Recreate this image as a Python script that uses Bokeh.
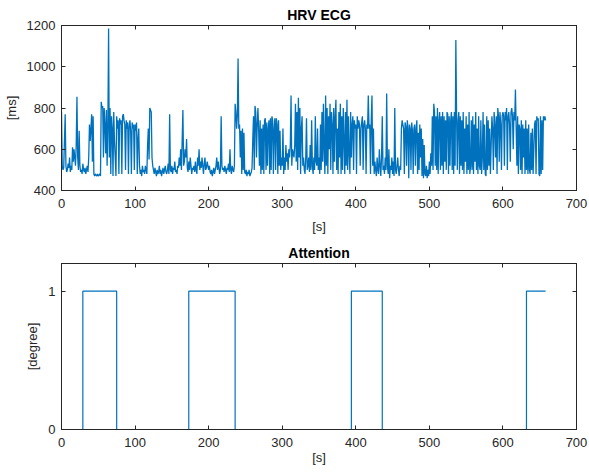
from bokeh.plotting import figure
from bokeh.layouts import column
from bokeh.models import LinearAxis, FixedTicker, Range1d
from bokeh.embed import file_html
from bokeh.resources import INLINE

# ---------------- data ----------------
hrv_ms = [
    780, 520, 500, 510, 640, 770, 520, 490, 500, 530, 510, 560, 490, 520, 500, 610, 540, 600, 560, 520,
    620, 855, 560, 500, 690, 520, 490, 500, 480, 530, 500, 490, 510, 480, 500, 520, 490, 560, 720, 640,
    700, 770, 540, 760, 480, 470, 480, 475, 470, 480, 470, 475, 480, 470, 830, 800, 810, 560, 800, 720,
    580, 790, 520, 700, 1185, 560, 800, 480, 760, 700, 470, 780, 640, 560, 470, 760, 700, 740, 480, 750,
    720, 740, 480, 760, 770, 740, 720, 500, 740, 700, 730, 480, 710, 740, 690, 480, 730, 700, 720, 500,
    720, 690, 730, 480, 650, 700, 520, 480, 500, 470, 520, 490, 500, 480, 520, 500, 480, 620, 700, 550,
    800, 790, 780, 560, 520, 500, 480, 510, 490, 470, 500, 480, 490, 520, 480, 500, 470, 490, 510, 480,
    500, 520, 490, 480, 500, 530, 480, 770, 500, 490, 520, 480, 510, 500, 540, 490, 500, 480, 520, 510,
    560, 520, 600, 500, 640, 790, 520, 540, 600, 560, 650, 510, 490, 540, 500, 560, 520, 480, 510, 500,
    520, 490, 540, 500, 480, 560, 520, 600, 500, 540, 510, 560, 520, 480, 530, 560, 500, 510, 540, 520,
    500, 520, 490, 480, 500, 470, 490, 510, 480, 500, 520, 560, 500, 540, 510, 480, 500, 760, 520, 500,
    510, 490, 520, 500, 480, 510, 500, 530, 490, 600, 500, 480, 520, 500, 490, 520, 820, 780, 700, 760,
    1040, 700, 720, 560, 690, 480, 700, 500, 680, 490, 480, 500, 470, 490, 480, 500, 470, 480, 490, 510,
    650, 760, 500, 810, 780, 560, 720, 800, 690, 520, 740, 480, 700, 500, 720, 480, 740, 750, 500, 730,
    520, 700, 740, 480, 750, 500, 760, 740, 480, 700, 750, 500, 750, 720, 480, 740, 520, 690, 500, 560,
    520, 700, 480, 560, 500, 620, 540, 580, 500, 600, 560, 620, 860, 520, 600, 580, 560, 620, 820, 540,
    780, 500, 850, 560, 800, 480, 700, 760, 520, 560, 500, 480, 560, 750, 500, 520, 560, 490, 620, 500,
    740, 520, 480, 560, 500, 760, 540, 520, 700, 500, 560, 480, 720, 500, 780, 540, 820, 600, 480, 860,
    520, 800, 480, 760, 600, 820, 500, 780, 720, 480, 800, 540, 760, 840, 500, 700, 480, 780, 560, 820,
    480, 760, 500, 800, 640, 480, 780, 520, 840, 500, 760, 580, 480, 780, 560, 720, 760, 500, 740, 700,
    720, 480, 760, 700, 740, 720, 520, 700, 730, 760, 500, 720, 740, 700, 480, 720, 700, 860, 700, 720,
    480, 740, 860, 520, 700, 480, 540, 500, 470, 560, 500, 480, 600, 520, 470, 560, 760, 500, 520, 480,
    560, 500, 870, 520, 480, 600, 460, 520, 500, 560, 480, 540, 470, 800, 500, 480, 520, 560, 500, 470,
    520, 500, 700, 740, 720, 700, 480, 730, 710, 520, 740, 700, 460, 720, 700, 500, 730, 690, 480, 700,
    720, 520, 700, 740, 480, 680, 500, 720, 560, 700, 470, 650, 460, 620, 480, 470, 520, 460, 500, 470,
    540, 480, 580, 520, 760, 500, 820, 780, 520, 760, 500, 800, 480, 740, 780, 500, 760, 520, 780, 480,
    760, 540, 740, 500, 780, 770, 480, 760, 520, 740, 780, 500, 760, 480, 780, 520, 1130, 760, 500, 740,
    780, 480, 760, 520, 740, 500, 780, 480, 700, 540, 760, 480, 720, 500, 780, 480, 520, 740, 500, 760,
    480, 720, 540, 780, 500, 700, 480, 760, 520, 500, 740, 480, 560, 780, 500, 720, 480, 470, 760, 500,
    740, 520, 700, 480, 620, 760, 700, 500, 780, 720, 560, 760, 480, 800, 760, 540, 780, 720, 500, 760,
    780, 760, 520, 780, 740, 800, 500, 760, 780, 720, 540, 780, 800, 760, 600, 780, 740, 890, 700, 520,
    760, 480, 720, 700, 500, 740, 480, 720, 560, 700, 480, 740, 500, 700, 480, 720, 500, 480, 680, 500,
    700, 480, 600, 720, 740, 480, 760, 740, 750, 480, 470, 760, 480, 740, 500, 760, 740, 760, 740,
]
hrv_t = list(range(len(hrv_ms)))  # one sample per second

attention_t = [0, 29, 75, 173, 236, 394, 436, 632, 658]
attention_v = [0, 1, 0, 1, 0, 1, 0, 1, 1]

x_ticks = [0, 100, 200, 300, 400, 500, 600, 700]
hrv_y_ticks = [400, 600, 800, 1000, 1200]
att_y_ticks = [0, 1]

LINE = "#0072BD"
AXC = "#262626"
FONT = "Liberation Sans"


def mirror_axis(ticks):
    return LinearAxis(ticker=FixedTicker(ticks=ticks),
                      major_label_overrides={t: "" for t in ticks},
                      major_label_text_font_size="13px",
                      major_tick_in=4, major_tick_out=0, minor_tick_line_color=None,
                      axis_line_color=AXC, major_tick_line_color=AXC,
                      major_label_standoff=0)


def style(p, yticks, xlabel_standoff):
    p.xgrid.visible = False
    p.ygrid.visible = False
    p.outline_line_color = AXC
    p.outline_line_width = 1
    p.title.align = "center"
    p.title.text_font = FONT
    p.title.text_font_size = "14px"
    p.title.text_font_style = "bold"
    p.title.text_color = "#000000"
    p.title.standoff = 5
    for ax in p.xaxis + p.yaxis:
        ax.major_label_text_font = FONT
        ax.major_label_text_font_size = "13px"
        ax.major_label_text_color = AXC
        ax.axis_label_text_font = FONT
        ax.axis_label_text_font_size = "13px"
        ax.axis_label_text_font_style = "normal"
        ax.axis_label_text_color = AXC
        ax.axis_line_color = AXC
        ax.major_tick_line_color = AXC
        ax.major_tick_in = 4
        ax.major_tick_out = 0
        ax.minor_tick_line_color = None
    p.xaxis.ticker = FixedTicker(ticks=x_ticks)
    p.yaxis.ticker = FixedTicker(ticks=yticks)
    p.xaxis.axis_label = "[s]"
    p.xaxis.major_label_standoff = 8
    p.xaxis.axis_label_standoff = xlabel_standoff
    p.yaxis.major_label_standoff = 6
    p.yaxis.axis_label_standoff = 5
    p.add_layout(mirror_axis(x_ticks), "above")
    p.add_layout(mirror_axis(yticks), "right")


p1 = figure(width=589, height=236, output_backend="svg", toolbar_location=None,
            x_range=Range1d(0, 700), y_range=Range1d(400, 1200), title="HRV ECG",
            min_border_left=60, min_border_right=13, min_border_top=25, min_border_bottom=45,
            background_fill_color="white", border_fill_color="white")
p1.line(hrv_t, hrv_ms, line_color=LINE, line_width=1.3)
style(p1, hrv_y_ticks, 8)
p1.yaxis[0].axis_label = "[ms]"

p2 = figure(width=589, height=237, output_backend="svg", toolbar_location=None,
            x_range=Range1d(0, 700), y_range=Range1d(0, 1.2), title="Attention",
            min_border_left=60, min_border_right=13, min_border_top=27, min_border_bottom=44,
            background_fill_color="white", border_fill_color="white")
p2.step(attention_t, attention_v, mode="after", line_color=LINE, line_width=1.2)
style(p2, att_y_ticks, 0)
p2.yaxis[0].axis_label = "[degree]"

layout = column(p1, p2, spacing=0)
open("out.html", "w").write(file_html(layout, INLINE))
